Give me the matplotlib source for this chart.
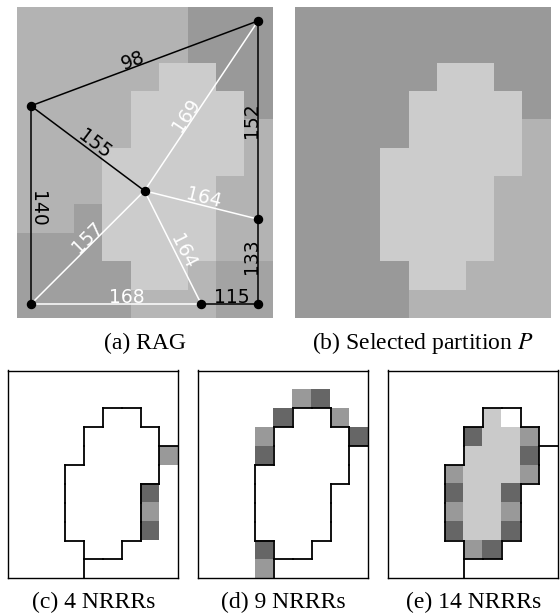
import numpy as np
import matplotlib
matplotlib.use('Agg')
import matplotlib.pyplot as plt
from matplotlib.collections import LineCollection
from matplotlib.colors import to_rgb

# ---------------- data ----------------
# region labels of the 9 x 11 cell image (row 0 = top)
region_rows = [
    "AAAAAABBB",
    "AAAAAABBB",
    "AAAAACCBB",
    "AAAACCCCB",
    "AAAACCCCD",
    "AAACCCCCD",
    "AAACCCCDD",
    "AAECCCCDD",
    "EEECCCCDD",
    "EEEECCFGG",
    "EEEEFFFGG",
]
region_gray = {'A': '#b3b3b3', 'B': '#999999', 'C': '#cccccc', 'D': '#b3b3b3',
               'E': '#9f9f9f', 'F': '#b6b6b6', 'G': '#a3a3a3'}
partition_of = {'A': 'P1', 'B': 'P1', 'E': 'P1', 'C': 'P2',
                'D': 'P3', 'F': 'P3', 'G': 'P3'}
partition_gray = {'P1': '#999999', 'P2': '#cccccc', 'P3': '#b3b3b3'}

# RAG nodes (cell coordinates of the region seeds)
node_names = ['A', 'B', 'C', 'D', 'E', 'F', 'G']
node_col = [0.5, 8.5, 4.5, 8.5, 0.5, 6.5, 8.5]
node_row = [3.5, 0.5, 6.5, 7.5, 10.5, 10.5, 10.5]

# RAG edges
edge_src = ['A', 'A', 'A', 'D', 'G', 'F', 'E', 'C', 'C', 'C', 'E']
edge_dst = ['B', 'C', 'E', 'B', 'D', 'G', 'F', 'B', 'D', 'F', 'C']
edge_weight = [98, 155, 140, 152, 133, 115, 168, 169, 164, 164, 157]
edge_kind = ['k', 'k', 'k', 'k', 'k', 'k', 'w', 'w', 'w', 'w', 'w']

# NRRR cells: (row, col, shade)
nrrr_c = [(4, 8, 'm'), (6, 7, 'd'), (7, 7, 'm'), (8, 7, 'd')]
nrrr_d = [(1, 5, 'm'), (1, 6, 'd'), (2, 4, 'd'), (2, 7, 'm'), (3, 3, 'm'),
          (3, 8, 'd'), (4, 3, 'd'), (9, 3, 'd'), (10, 3, 'm')]
nrrr_e = [(2, 6, 'w'), (3, 4, 'd'), (3, 7, 'm'), (4, 7, 'd'), (5, 3, 'm'),
          (5, 7, 'm'), (6, 3, 'd'), (6, 6, 'd'), (7, 3, 'm'), (7, 6, 'm'),
          (8, 3, 'd'), (8, 6, 'd'), (9, 4, 'm'), (9, 5, 'd')]

captions = ['(a) RAG', '(b) Selected partition $P$',
            '(c) 4 NRRRs', '(d) 9 NRRRs', '(e) 14 NRRRs']

# ---------------- layout / style ----------------
W, H = 560, 615
shade_color = {'d': '#666666', 'm': '#999999', 'w': '#ffffff'}
object_fill = '#cacaca'
label_frac = [0.46, 0.52, 0.52, 0.50, 0.56, 0.53, 0.56, 0.42, 0.51, 0.56, 0.54]

plt.rcParams['mathtext.fontset'] = 'stix'
fig = plt.figure(figsize=(W / 100, H / 100), dpi=100)


def pos(x0, y0, x1, y1):
    return [x0 / W, 1 - y1 / H, (x1 - x0) / W, (y1 - y0) / H]


nrows = len(region_rows)
ncols = len(region_rows[0])
grid = np.array([list(r) for r in region_rows])
part = np.vectorize(partition_of.get)(grid)


def rgb_image(labels, cmap):
    img = np.zeros((nrows, ncols, 3))
    for r in range(nrows):
        for c in range(ncols):
            img[r, c] = to_rgb(cmap[labels[r, c]])
    return img


def setup(ax, frame):
    ax.set_xlim(0, ncols)
    ax.set_ylim(nrows, 0)
    ax.set_xticks([])
    ax.set_yticks([])
    for s in ax.spines.values():
        s.set_visible(frame)
        s.set_linewidth(1.0)
        s.set_color('black')


# ---- (a) RAG ----
ax_a = fig.add_axes(pos(16.7, 6.7, 272.3, 318.3))
ax_a.imshow(rgb_image(grid, region_gray), extent=(0, ncols, nrows, 0),
            aspect='auto', interpolation='nearest')
setup(ax_a, False)
sx = 255.6 / ncols
sy = 311.6 / nrows
idx = {n: i for i, n in enumerate(node_names)}
for s, d, w, k, f in zip(edge_src, edge_dst, edge_weight, edge_kind, label_frac):
    c1, r1 = node_col[idx[s]], node_row[idx[s]]
    c2, r2 = node_col[idx[d]], node_row[idx[d]]
    col = 'black' if k == 'k' else 'white'
    ax_a.plot([c1, c2], [r1, r2], color=col, lw=1.1, zorder=2)
    dx, dy = (c2 - c1) * sx, -(r2 - r1) * sy
    L = np.hypot(dx, dy)
    ang = np.degrees(np.arctan2(dy, dx))
    nx, ny = -dy / L, dx / L
    off = 9
    ax_a.annotate(str(w), xy=(c1 + f * (c2 - c1), r1 + f * (r2 - r1)),
                  xytext=(nx * off, ny * off), textcoords='offset pixels',
                  rotation=ang, rotation_mode='anchor', ha='center',
                  va='center_baseline', color=col, fontsize=13.5,
                  family='DejaVu Sans', zorder=3)
ax_a.plot(node_col, node_row, 'o', color='black', ms=5.8, zorder=4)

# ---- (b) partition ----
ax_b = fig.add_axes(pos(295, 6.7, 550.7, 318.3))
ax_b.imshow(rgb_image(part, partition_gray), extent=(0, ncols, nrows, 0),
            aspect='auto', interpolation='nearest')
setup(ax_b, False)

# partition boundary segments
segs = []
for r in range(nrows):
    for c in range(ncols):
        if c + 1 < ncols and part[r, c] != part[r, c + 1]:
            segs.append([(c + 1, r), (c + 1, r + 1)])
        if r + 1 < nrows and part[r, c] != part[r + 1, c]:
            segs.append([(c, r + 1), (c + 1, r + 1)])


def nrrr_panel(rect, cells, fill_object):
    ax = fig.add_axes(rect)
    img = np.ones((nrows, ncols, 3))
    if fill_object:
        for r in range(nrows):
            for c in range(ncols):
                if part[r, c] == 'P2':
                    img[r, c] = to_rgb(object_fill)
    for r, c, sh in cells:
        img[r, c] = to_rgb(shade_color[sh])
    ax.imshow(img, extent=(0, ncols, nrows, 0), aspect='auto',
              interpolation='nearest')
    ax.add_collection(LineCollection(segs, colors='black', linewidths=1.3,
                                     capstyle='projecting'))
    setup(ax, True)
    return ax


nrrr_panel(pos(8.3, 370.5, 178.3, 578.3), nrrr_c, False)
nrrr_panel(pos(198.3, 370.5, 368.3, 578.3), nrrr_d, False)
nrrr_panel(pos(388.3, 370.5, 558.3, 578.3), nrrr_e, True)

cap_x = [144.5, 423, 93.3, 283.3, 473.3]
cap_y = [349, 349, 608, 608, 608]
for t, x, y in zip(captions, cap_x, cap_y):
    fig.text(x / W, 1 - y / H, t, ha='center', va='baseline',
             family='Liberation Serif', fontsize=17)

fig.savefig('out.png', dpi=100)
